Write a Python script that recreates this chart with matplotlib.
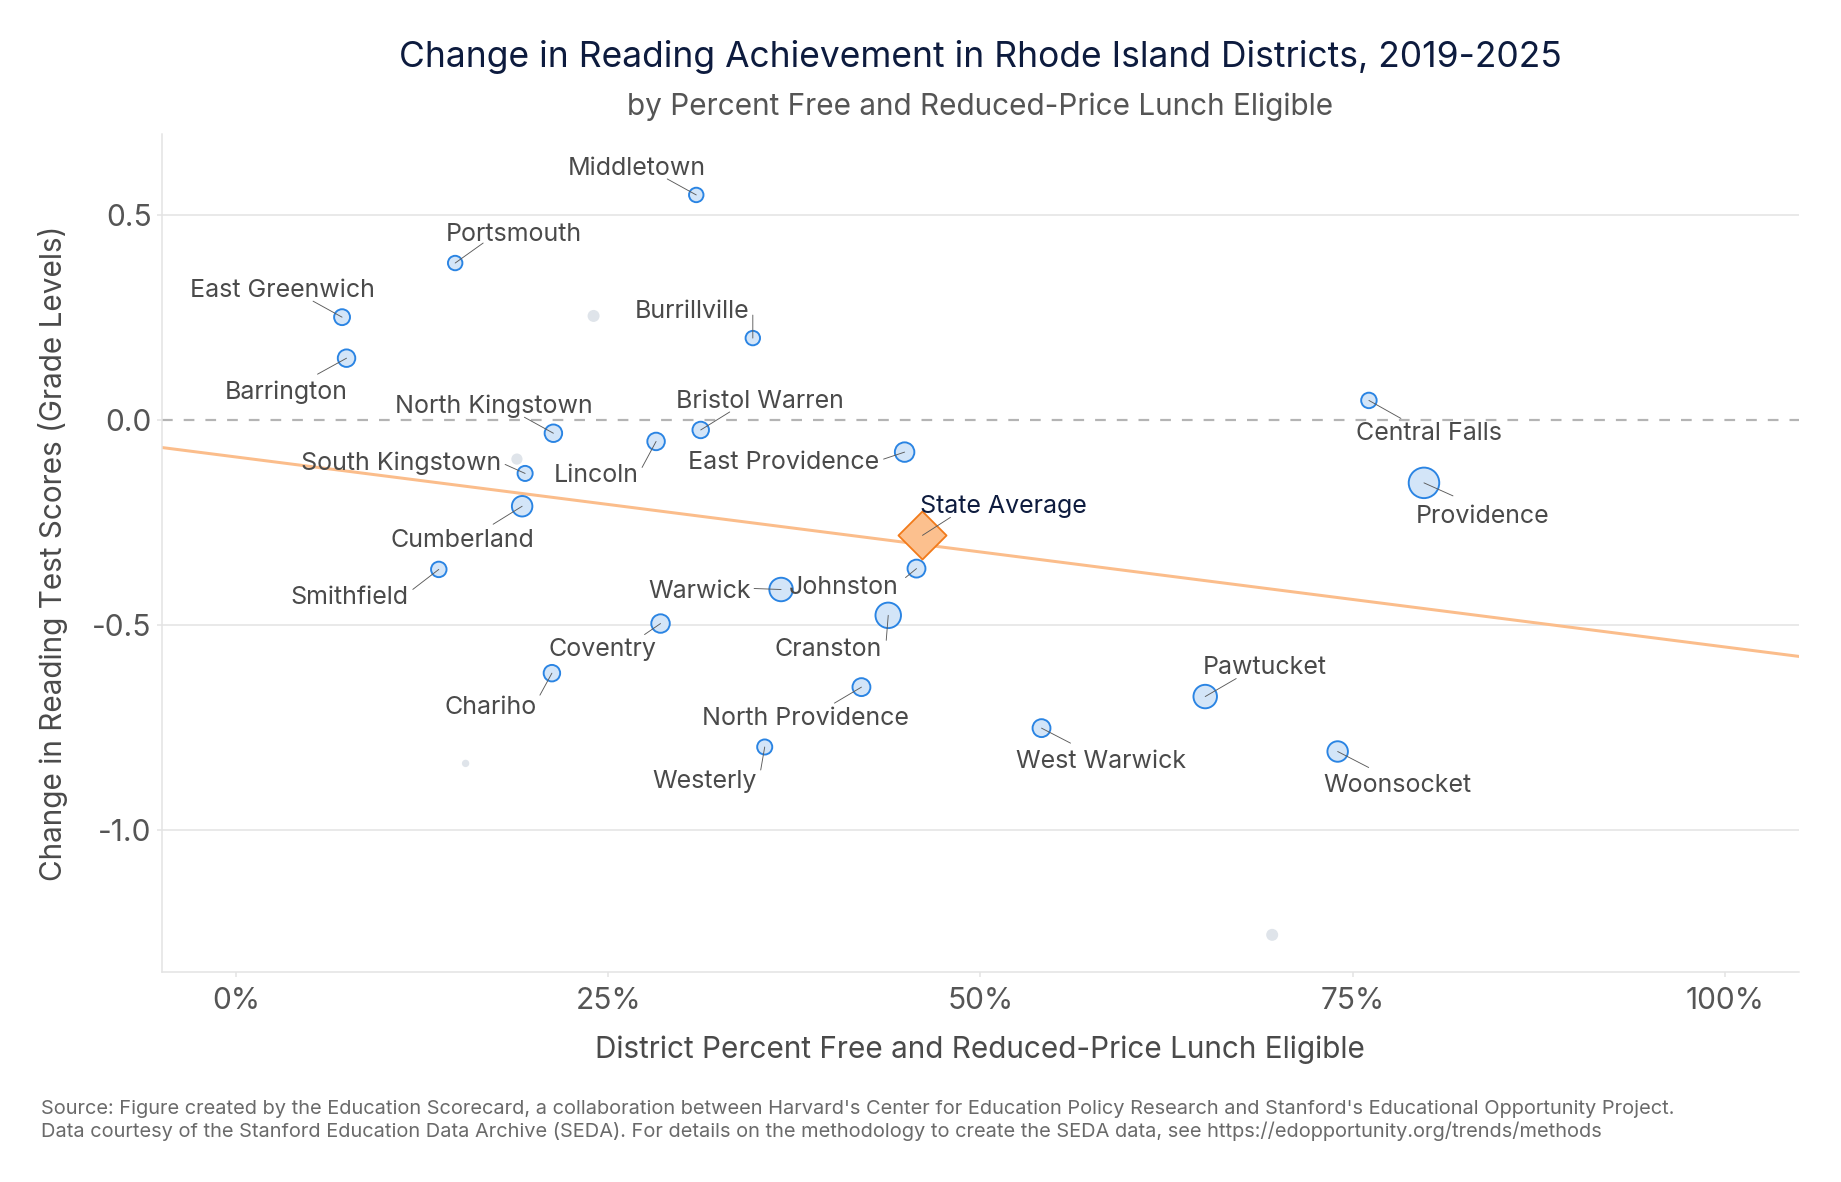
import matplotlib
matplotlib.use("Agg")
import matplotlib.pyplot as plt
import numpy as np

plt.rcParams['font.family'] = ['Inter', 'DejaVu Sans']

# ---------------- data ----------------
districts = ["Middletown", "Portsmouth", "East Greenwich", "Barrington", "Burrillville",
             "North Kingstown", "Bristol Warren", "Lincoln", "East Providence",
             "South Kingstown", "Cumberland", "Smithfield", "Warwick", "Johnston",
             "Cranston", "Coventry", "Chariho", "North Providence", "Westerly",
             "West Warwick", "Pawtucket", "Woonsocket", "Central Falls", "Providence"]
frl_pct = [0.309, 0.147, 0.071, 0.074, 0.347,
           0.213, 0.312, 0.282, 0.449,
           0.194, 0.192, 0.136, 0.366, 0.457,
           0.438, 0.285, 0.212, 0.420, 0.355,
           0.541, 0.651, 0.740, 0.761, 0.798]
read_change = [0.549, 0.383, 0.251, 0.151, 0.200,
               -0.032, -0.024, -0.052, -0.078,
               -0.130, -0.210, -0.364, -0.413, -0.362,
               -0.476, -0.496, -0.617, -0.651, -0.797,
               -0.751, -0.674, -0.808, 0.048, -0.153]
enrollment = [2200, 2200, 3060, 4190, 2200,
              4190, 3460, 4190, 5850,
              2560, 6780, 2800, 10000, 4500,
              12500, 4980, 3460, 4500, 2560,
              4500, 10000, 6780, 2800, 20000]

# unlabeled (small) districts
other_pct = [0.240, 0.1885, 0.154, 0.696]
other_change = [0.254, -0.095, -0.837, -1.255]
other_enroll = [865, 610, 5, 865]

state_pct = 0.461
state_change = -0.281

trend_intercept = -0.090
trend_slope = -0.463

x_ticks = [0.0, 0.25, 0.5, 0.75, 1.0]
x_ticklabels = ["0%", "25%", "50%", "75%", "100%"]
y_ticks = [0.5, 0.0, -0.5, -1.0]
y_ticklabels = ["0.5", "0.0", "-0.5", "-1.0"]

# label layout (pixel offsets: text centre, leader start)
label_off = [(-60, 29), (59, 31), (-60, 29), (-60, -32), (-61, 29),
             (-60, 29), (59, 31), (-60, -32), (-121, -8),
             (-124, 13), (-60, -32), (-89, -26), (-81, 1), (-73, -16),
             (-60, -32), (-58, -23), (-61, -32), (-56, -29), (-60, -32),
             (60, -31), (60, 32), (60, -31), (60, -31), (59, -31)]
leader_off = [(-29, 16), (28, 20), (-29, 16), (-29, -16), (0, 23),
              (-29, 16), (29, 18), (-14, -26), (-21, -7),
              (-20, 9), (-29, -18), (-26, -20), (-27, 1), (-11, -9),
              (-2, -25), (-16, -11), (-12, -22), (-27, -16), (-4, -23),
              (29, -15), (31, 18), (31, -16), (32, -18), (29, -13)]
text_shift = -2.5  # small vertical correction for glyph centring

# ---------------- figure ----------------
W, H, DPI = 1841, 1182, 100
fig = plt.figure(figsize=(W / DPI, H / DPI), dpi=DPI)
ax = fig.add_axes([162 / W, 1 - 972 / H, (1799 - 162) / W, (972 - 134) / H])

ax.set_xlim(-0.05, 1.05)
ax.set_ylim(-1.3456, 0.6976)

px2pt = 72 / DPI
grid_c = "#e3e3e3"
for yv in [0.5, -0.5, -1.0]:
    ax.axhline(yv, color=grid_c, lw=1.5 * px2pt, zorder=0)
ax.axhline(0.0, color="#b4b4b4", lw=2.2 * px2pt, zorder=0.5,
           linestyle=(0, (10.7 / 2.2, 11 / 2.2)))

# trend line
xs = np.array(ax.get_xlim())
ax.plot(xs, trend_intercept + trend_slope * xs, color="#fbbd8b", lw=3.0 * px2pt, zorder=1)


def radius_px(e):
    return 4.2 + 0.085 * np.sqrt(e)


edge_px = 1.9
# other districts (gray, no edge)
r_o = radius_px(np.array(other_enroll)) - 0.7
ax.scatter(other_pct, other_change, s=(2 * r_o * px2pt) ** 2, color="#dfe4ea",
           edgecolors="none", zorder=2)

r_d = radius_px(np.array(enrollment))
ax.scatter(frl_pct, read_change, s=((2 * r_d - edge_px) * px2pt) ** 2,
           facecolor="#d3e5f8", edgecolors="#2a84e3", linewidths=edge_px * px2pt, zorder=3)

# state average
ax.scatter([state_pct], [state_change], marker="D", s=(34 * px2pt) ** 2,
           facecolor="#fcc08e", edgecolors="#f27a1a", linewidths=1.8 * px2pt, zorder=4)

label_kw = dict(fontsize=18, color="#4a4a4a", ha="center", va="center", zorder=6)
leader_kw = dict(arrowstyle="-", color="#5a5a5a", lw=0.9 * px2pt, shrinkA=0, shrinkB=0)
for name, x, y, (tx, ty), (lx, ly) in zip(districts, frl_pct, read_change, label_off, leader_off):
    ax.annotate(name, xy=(x, y), xytext=(tx, ty + text_shift), textcoords="offset pixels", **label_kw)
    ax.annotate("", xy=(x, y), xytext=(lx, ly), textcoords="offset pixels",
                arrowprops=leader_kw, zorder=5)

ax.annotate("State Average", xy=(state_pct, state_change), xytext=(81, 31 + text_shift),
            textcoords="offset pixels", fontsize=18, color="#0d1b3e",
            ha="center", va="center", zorder=6)
ax.annotate("", xy=(state_pct, state_change), xytext=(28, 18), textcoords="offset pixels",
            arrowprops=leader_kw, zorder=5)

# axes styling
for side in ["top", "right"]:
    ax.spines[side].set_visible(False)
for side in ["left", "bottom"]:
    ax.spines[side].set_color(grid_c)
    ax.spines[side].set_linewidth(1.5 * px2pt)

ax.set_xticks(x_ticks)
ax.set_xticklabels(x_ticklabels)
ax.set_yticks(y_ticks)
ax.set_yticklabels(y_ticklabels)
ax.tick_params(axis="both", colors=grid_c, labelcolor="#555555", labelsize=21.5,
               length=5 * px2pt, width=1.5 * px2pt)
ax.tick_params(axis="x", pad=7)
ax.tick_params(axis="y", pad=4)

fig.text(980 / W, 1 - 1050 / H, "District Percent Free and Reduced-Price Lunch Eligible",
         ha="center", va="center", fontsize=21.4, color="#4a4a4a")
fig.text(53 / W, 1 - 553 / H, "Change in Reading Test Scores (Grade Levels)",
         ha="center", va="center", rotation=90, fontsize=21.4, color="#4a4a4a")

fig.text(980 / W, 1 - 57.5 / H, "Change in Reading Achievement in Rhode Island Districts, 2019-2025",
         ha="center", va="center", fontsize=25.5, color="#0d1b3e")
fig.text(980 / W, 1 - 107 / H, "by Percent Free and Reduced-Price Lunch Eligible",
         ha="center", va="center", fontsize=21.4, color="#555555")

fig.text(41 / W, 1 - 1108.5 / H,
         "Source: Figure created by the Education Scorecard, a collaboration between Harvard's Center for Education Policy Research and Stanford's Educational Opportunity Project.",
         ha="left", va="center", fontsize=14.4, color="#6a6a6a")
fig.text(41 / W, 1 - 1131.5 / H,
         "Data courtesy of the Stanford Education Data Archive (SEDA). For details on the methodology to create the SEDA data, see https://edopportunity.org/trends/methods",
         ha="left", va="center", fontsize=14.4, color="#6a6a6a")

fig.savefig("out.png", dpi=DPI, facecolor="white")
